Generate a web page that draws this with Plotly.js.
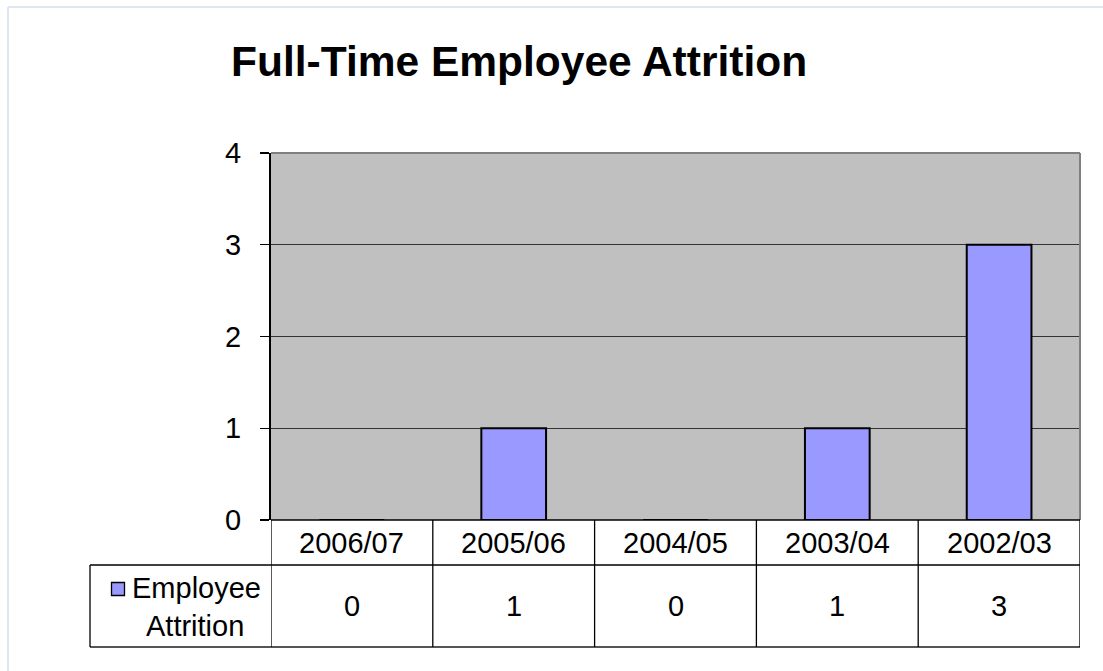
<!DOCTYPE html>
<html>
<head>
<meta charset="utf-8">
<script src="https://cdn.plot.ly/plotly-3.0.1.min.js"></script>
<style>html,body{margin:0;padding:0;background:#fff;}#chart{width:1103px;height:671px;}</style>
</head>
<body>
<div id="chart"></div>
<script>
const categories = ["2006/07", "2005/06", "2004/05", "2003/04", "2002/03"];
const attrition = [0, 1, 0, 1, 3];
const seriesName = "Employee Attrition";
const yTicks = [0, 1, 2, 3, 4];

const FONT = "Liberation Sans, Arial, sans-serif";
const FS = 29;
const W = 1103, H = 671;
const L = 271, R = 1080, T = 153, B = 520;
const pw = R - L, ph = B - T;
const py = (Y) => (B - Y) / ph;
const px = (X) => (X - L) / pw;

const rowHeadBottom = py(565);
const rowValBottom = py(647);
const legLeft = px(90);

const shapes = [];
// outer light frame
shapes.push({type:'line', xref:'paper', yref:'paper', x0:px(8), x1:px(1110), y0:py(7), y1:py(7), line:{color:'#dde7f2', width:2}});
shapes.push({type:'line', xref:'paper', yref:'paper', x0:px(8), x1:px(8), y0:py(7), y1:py(680), line:{color:'#dde7f2', width:2}});
// plot border top/right gray
shapes.push({type:'line', xref:'paper', yref:'paper', x0:0, x1:1, y0:1, y1:1, line:{color:'#808080', width:2}});
shapes.push({type:'line', xref:'paper', yref:'paper', x0:1, x1:1, y0:0, y1:1, line:{color:'#808080', width:2}});
// table lines
shapes.push({type:'line', xref:'paper', yref:'paper', x0:0, x1:1, y0:0, y1:0, line:{color:'#000', width:1.5}});
shapes.push({type:'line', xref:'paper', yref:'paper', x0:legLeft, x1:1, y0:rowHeadBottom, y1:rowHeadBottom, line:{color:'#000', width:1.3}});
shapes.push({type:'line', xref:'paper', yref:'paper', x0:legLeft, x1:1, y0:rowValBottom, y1:rowValBottom, line:{color:'#555', width:2}});
shapes.push({type:'line', xref:'paper', yref:'paper', x0:legLeft, x1:legLeft, y0:rowHeadBottom, y1:rowValBottom, line:{color:'#000', width:1.3}});
for (let i = 0; i <= categories.length; i++) {
  shapes.push({type:'line', xref:'x', yref:'paper', x0:i-0.5, x1:i-0.5, y0:0, y1:rowValBottom, line:{color:'#000', width:1.3}});
}
// legend key
const keyCx = px(118), keyCy = py(589), ks = 6.5;
shapes.push({type:'rect', xref:'paper', yref:'paper', x0:keyCx - ks/pw, x1:keyCx + ks/pw, y0:keyCy - ks/ph, y1:keyCy + ks/ph, fillcolor:'#9999ff', line:{color:'#000', width:1.3}});

const annotations = [];
categories.forEach((c, i) => {
  annotations.push({xref:'x', yref:'paper', x:i, y:(0 + rowHeadBottom)/2, text:c, showarrow:false, font:{family:FONT, size:FS, color:'#000'}, xanchor:'center', yanchor:'middle'});
  annotations.push({xref:'x', yref:'paper', x:i, y:(rowHeadBottom + rowValBottom)/2, text:String(attrition[i]), showarrow:false, font:{family:FONT, size:FS, color:'#000'}, xanchor:'center', yanchor:'middle'});
});
const nameParts = seriesName.split(' ');
annotations.push({xref:'paper', yref:'paper', x:px(263), y:py(588), text:nameParts[0], showarrow:false, font:{family:FONT, size:FS, color:'#000'}, xanchor:'right', yanchor:'middle'});
annotations.push({xref:'paper', yref:'paper', x:px(246), y:py(626), text:nameParts[1], showarrow:false, font:{family:FONT, size:FS, color:'#000'}, xanchor:'right', yanchor:'middle'});

const data = [{
  type:'bar', x:categories, y:attrition, name:seriesName,
  marker:{color:'#9999ff', line:{color:'#000', width:2}},
  width:0.4, hoverinfo:'x+y'
}];

const layout = {
  width:W, height:H, autosize:false,
  margin:{l:L, r:W-R, t:T, b:H-B, pad:0},
  paper_bgcolor:'#ffffff', plot_bgcolor:'#c0c0c0',
  showlegend:false,
  title:{text:'<b>Full-Time Employee Attrition</b>', x:231/W, xanchor:'left', xref:'container', y:1-61/H, yref:'container', yanchor:'middle', font:{family:FONT, size:42.5, color:'#000'}},
  xaxis:{type:'category', showticklabels:false, ticks:'', showgrid:false, zeroline:false, showline:false, range:[-0.5, categories.length-0.5], fixedrange:true},
  yaxis:{range:[0,4], tickvals:yTicks, ticktext:yTicks.map(String), ticks:'outside', ticklen:9, tickwidth:1.3, tickcolor:'#000', showline:true, linecolor:'#000', linewidth:2, showgrid:true, gridcolor:'#333', gridwidth:1, zeroline:false, ticklabelstandoff:13, tickfont:{family:FONT, size:FS, color:'#000'}, fixedrange:true},
  shapes:shapes, annotations:annotations,
  bargap:0.6
};
Plotly.newPlot('chart', data, layout, {displayModeBar:false, staticPlot:true});
</script>
</body>
</html>
